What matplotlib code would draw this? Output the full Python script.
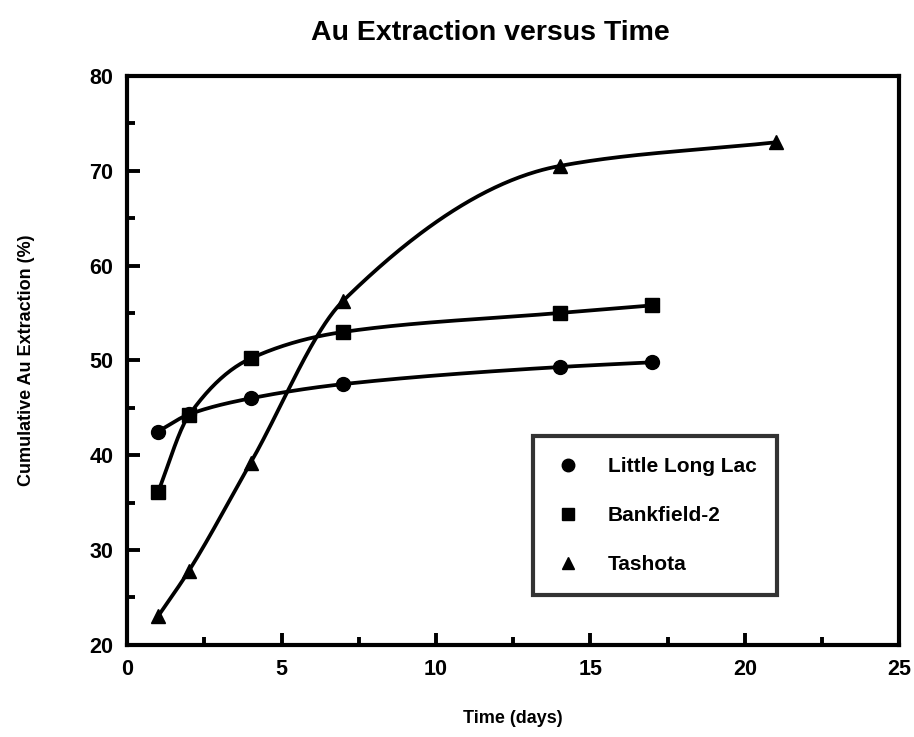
import numpy as np
from matplotlib import pyplot as plt
from matplotlib.ticker import MultipleLocator

# data
days_llc = [1, 2, 4, 7, 14, 17]
llc = [42.5, 44.3, 46.0, 47.5, 49.3, 49.8]
days_bank = [1, 2, 4, 7, 14, 17]
bank = [36.1, 44.2, 50.2, 53.0, 55.0, 55.8]
days_tash = [1, 2, 4, 7, 14, 21]
tash = [23.0, 27.8, 39.2, 56.3, 70.5, 73.0]

names = ["Little Long Lac", "Bankfield-2", "Tashota"]
markers = ["o", "s", "^"]


# monotone cubic (Fritsch-Carlson) just for drawing the smooth line
def smooth(x, y, n=300):
    x = np.asarray(x, float)
    y = np.asarray(y, float)
    h = np.diff(x)
    d = np.diff(y) / h
    m = np.zeros_like(y)
    m[0], m[-1] = d[0], d[-1]
    for i in range(1, len(x) - 1):
        if d[i - 1] * d[i] > 0:
            w1 = 2 * h[i] + h[i - 1]
            w2 = h[i] + 2 * h[i - 1]
            m[i] = (w1 + w2) / (w1 / d[i - 1] + w2 / d[i])
    xs = np.linspace(x[0], x[-1], n)
    k = np.clip(np.searchsorted(x, xs) - 1, 0, len(x) - 2)
    t = (xs - x[k]) / h[k]
    h00 = 2 * t**3 - 3 * t**2 + 1
    h10 = t**3 - 2 * t**2 + t
    h01 = -2 * t**3 + 3 * t**2
    h11 = t**3 - t**2
    ys = h00 * y[k] + h10 * h[k] * m[k] + h01 * y[k + 1] + h11 * h[k] * m[k + 1]
    return xs, ys


plt.rcParams['font.family'] = ['Liberation Sans', 'DejaVu Sans']
plt.rcParams['font.weight'] = 'bold'

fig = plt.figure(figsize=(9.14, 7.37), dpi=100)
ax = fig.add_axes([0.139, 0.125, 0.845, 0.772])

for (x, y), mk, nm in zip([(days_llc, llc), (days_bank, bank), (days_tash, tash)], markers, names):
    xs, ys = smooth(x, y)
    ax.plot(xs, ys, color='black', lw=2.7, zorder=2)
    ax.plot(x, y, ls='none', marker=mk, ms=10, color='black', zorder=3)
    ax.plot([], [], ls='none', marker=mk, ms=9, color='black', label=nm)

ax.set_xlim(0, 25)
ax.set_ylim(20, 80)
ax.xaxis.set_major_locator(MultipleLocator(5))
ax.xaxis.set_minor_locator(MultipleLocator(2.5))
ax.yaxis.set_major_locator(MultipleLocator(10))
ax.yaxis.set_minor_locator(MultipleLocator(5))
ax.tick_params(which='both', direction='in', width=2.8, labelsize=15.5, pad=10)
ax.tick_params(which='major', length=9)
ax.tick_params(which='minor', length=6)
ax.tick_params(top=False, right=False)
for s in ax.spines.values():
    s.set_linewidth(3.0)

ax.set_title("Au Extraction versus Time", fontsize=20.5, fontweight='bold', pad=26, x=0.47)
ax.set_xlabel("Time (days)", fontsize=13, fontweight='bold', labelpad=22)
ax.set_ylabel("Cumulative Au Extraction (%)", fontsize=13, fontweight='bold', labelpad=39)

leg = ax.legend(loc='upper left', bbox_to_anchor=(0.525, 0.367), fontsize=15,
                frameon=True, fancybox=False, edgecolor='black', handletextpad=1.2,
                labelspacing=1.45, borderpad=1.0, handlelength=1.4, borderaxespad=0)
leg.get_frame().set_linewidth(3.0)

fig.savefig("out.png", dpi=100)
